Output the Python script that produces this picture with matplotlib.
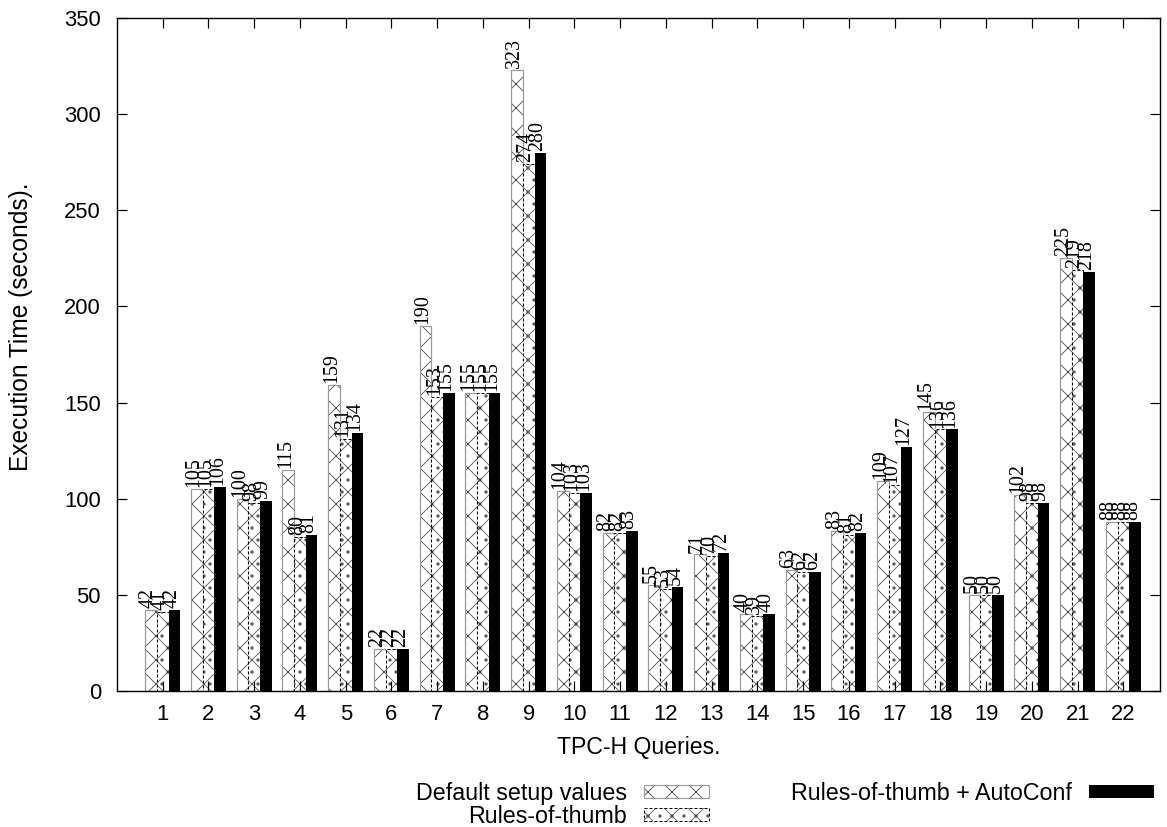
import matplotlib
matplotlib.use("Agg")
import matplotlib.pyplot as plt
import numpy as np

# TPC-H execution times (seconds)
queries = [str(i) for i in range(1, 23)]
default_setup = [42, 105, 100, 115, 159, 22, 190, 155, 323, 104, 82,
                 55, 71, 40, 63, 83, 109, 145, 50, 102, 225, 88]
rules_of_thumb = [41, 105, 98, 80, 131, 22, 153, 155, 274, 103, 82,
                  53, 70, 39, 62, 81, 107, 136, 50, 98, 219, 88]
autoconf = [42, 106, 99, 81, 134, 22, 155, 155, 280, 103, 83,
            54, 72, 40, 62, 82, 127, 136, 50, 98, 218, 88]
labels = ["Default setup values", "Rules-of-thumb", "Rules-of-thumb + AutoConf"]

plt.rcParams["font.family"] = ["Liberation Sans", "DejaVu Sans"]
plt.rcParams["hatch.linewidth"] = 0.8

# dpi 72 so one point == one pixel (hatch spacing scales with dpi)
fig = plt.figure(figsize=(1167 / 72, 827 / 72), dpi=72)
ax = fig.add_axes([117 / 1167, 1 - 691 / 827, 1043 / 1167, 673 / 827])

x = np.arange(1, len(queries) + 1)
w = 0.255

# default setup: dark hatch with light grey outline
ax.bar(x - w, default_setup, w, color="white", edgecolor="#444444", hatch="x", linewidth=0)
ax.bar(x - w, default_setup, w, fill=False, edgecolor="#9a9a9a", linewidth=1.2)
# rules-of-thumb: cross hatch with little marks, dashed outline
ax.bar(x, rules_of_thumb, w, color="white", edgecolor="#555555", hatch="x.", linewidth=0)
ax.bar(x, rules_of_thumb, w, fill=False, edgecolor="black", linewidth=1.0, linestyle=(0, (3, 2)))
ax.bar(x + w, autoconf, w, color="black", edgecolor="black", linewidth=0)

for off, vals in [(-w, default_setup), (0, rules_of_thumb), (w, autoconf)]:
    for xi, v in zip(x, vals):
        ax.text(xi + off + 0.04, v + 1, str(v), rotation=90, rotation_mode="anchor",
                ha="left", va="baseline", fontsize=20, family=["Liberation Serif", "DejaVu Serif"])

ax.set_xlim(0, 22.8)
ax.set_ylim(0, 350)
ax.set_xticks(x)
ax.set_xticklabels(queries)
ax.set_yticks(np.arange(0, 351, 50))
ax.tick_params(direction="in", length=10, width=1.2, labelsize=22, top=True, right=True)
ax.tick_params(axis="y", pad=16)
ax.tick_params(axis="x", pad=13)
for s in ax.spines.values():
    s.set_linewidth(1.4)

ax.set_xlabel("TPC-H Queries.", fontsize=23, labelpad=11)
ax.set_ylabel("Execution Time (seconds).", fontsize=24.5)
ax.yaxis.set_label_coords(-0.081, (691 - 327) / 673)

# legend handles: overlay hatch + outline
p1 = plt.Rectangle((0, 0), 1, 1, facecolor="white", edgecolor="#444444", hatch="x", linewidth=0)
p1b = plt.Rectangle((0, 0), 1, 1, fill=False, edgecolor="#9a9a9a", linewidth=1.2)
p2 = plt.Rectangle((0, 0), 1, 1, facecolor="white", edgecolor="#555555", hatch="x.", linewidth=0)
p2b = plt.Rectangle((0, 0), 1, 1, fill=False, edgecolor="black", linewidth=1.0, linestyle=(0, (3, 2)))
p3 = plt.Rectangle((0, 0), 1, 1, facecolor="black", edgecolor="black", linewidth=0)

fig.legend([(p1, p1b), (p2, p2b), p3], labels, loc="upper center",
           bbox_to_anchor=(785 / 1167, 1 - 782 / 827), ncol=2, frameon=False,
           markerfirst=False, fontsize=23.3, handlelength=2.8, handleheight=0.45,
           handletextpad=0.75, columnspacing=3.5, labelspacing=0.0, borderpad=0,
           borderaxespad=0)

fig.savefig("out.png", dpi=72)
